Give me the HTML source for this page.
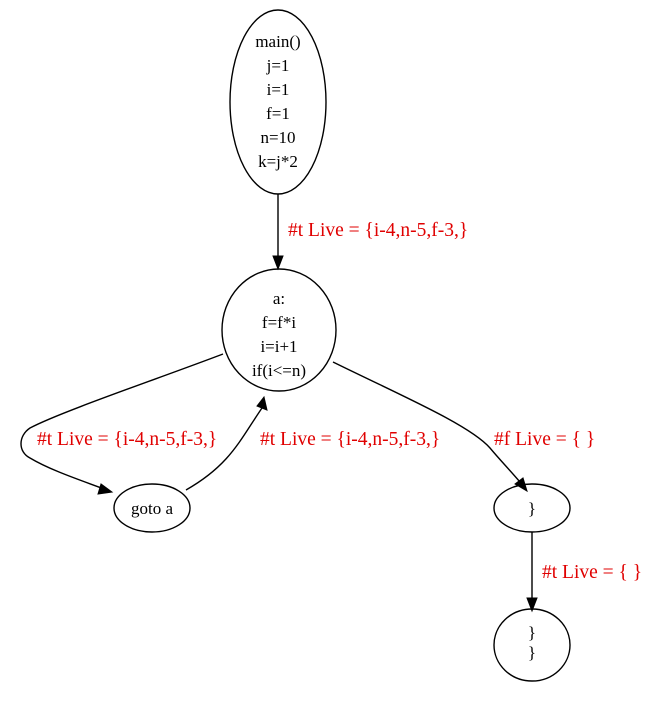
<!DOCTYPE html>
<html><head><style>body{margin:0;background:#fff}</style></head><body>
<svg width="652" height="712" viewBox="0 0 652 712" xmlns="http://www.w3.org/2000/svg" font-family="Liberation Serif, serif" font-size="17">
<g fill="none" stroke="#000" stroke-width="1.4">
<ellipse cx="278" cy="102" rx="48" ry="92"/>
<ellipse cx="279" cy="330" rx="57" ry="61"/>
<ellipse cx="152" cy="508" rx="38" ry="24"/>
<ellipse cx="532" cy="508" rx="38" ry="24"/>
<ellipse cx="532" cy="645" rx="38" ry="36"/>
<path d="M278 194 L278 258"/>
<path d="M223 354 C160 378 60 412 30 428 C18 436 18 452 30 458 C50 470 80 480 104 489"/>
<path d="M186 490 C230 465 240 440 262 408"/>
<path d="M333 362 C400 395 470 425 490 448 C500 460 508 468 520 482"/>
<path d="M532 532 L532 598"/>
</g>
<g fill="#000" stroke="#000">
<polygon points="273,256 283,256 278,269"/>
<polygon points="101,484 98,494 112,492"/>
<polygon points="257,406 267,410 264,397"/>
<polygon points="515,484 523,478 527,491"/>
<polygon points="527,598 537,598 532,611"/>
</g>
<g text-anchor="middle" fill="#000">
<text x="278" y="47">main()</text>
<text x="278" y="71">j=1</text>
<text x="278" y="95">i=1</text>
<text x="278" y="119">f=1</text>
<text x="278" y="143">n=10</text>
<text x="278" y="167">k=j*2</text>
<text x="279" y="304">a:</text>
<text x="279" y="328">f=f*i</text>
<text x="279" y="352">i=i+1</text>
<text x="279" y="376">if(i&lt;=n)</text>
<text x="152" y="514">goto a</text>
<text x="532" y="514">}</text>
<text x="532" y="638">}</text>
<text x="532" y="658">}</text>
</g>
<g fill="#e00000" font-size="19.5">
<text x="288" y="236">#t Live = {i-4,n-5,f-3,}</text>
<text x="37" y="445">#t Live = {i-4,n-5,f-3,}</text>
<text x="260" y="445">#t Live = {i-4,n-5,f-3,}</text>
<text x="494" y="445">#f Live = { }</text>
<text x="542" y="578">#t Live = { }</text>
</g>
</svg>
</body></html>
